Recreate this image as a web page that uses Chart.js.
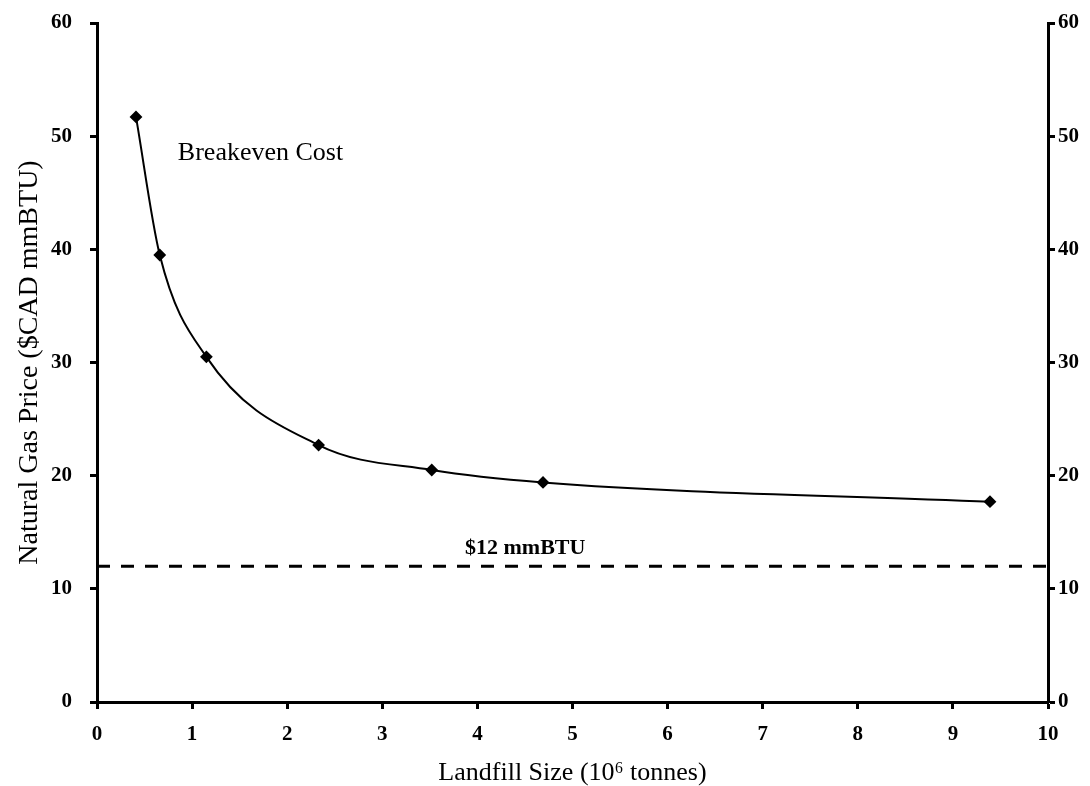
<!DOCTYPE html>
<html>
<head>
<meta charset="utf-8">
<script src="https://cdn.jsdelivr.net/npm/chart.js@4/dist/chart.umd.min.js"></script>
<style>
  html, body { margin: 0; padding: 0; background: #fff; }
  #wrap { width: 1090px; height: 786px; }
</style>
</head>
<body>
<div id="wrap"><canvas id="myChart" width="1090" height="786"></canvas></div>
<script>
// landfill size (10^6 tonnes) vs breakeven natural gas price ($CAD/mmBTU)
const landfillSize = [0.41, 0.66, 1.15, 2.33, 3.52, 4.69, 9.39];
const breakevenCost = [51.7, 39.5, 30.5, 22.7, 20.5, 19.4, 17.7];
const gasPriceX = [0, 10];
const gasPriceY = [12, 12];
const yTicks = [0, 10, 20, 30, 40, 50, 60];

const SERIF = "'Liberation Serif', 'Times New Roman', serif";
const ctx = document.getElementById("myChart");

const toPoints = (xs, ys) => xs.map((x, i) => ({ x: x, y: ys[i] }));

// text notes placed in data coordinates
const notes = [
  { text: "Breakeven Cost", x: 0.85, y: 48.5, bold: false, size: 26 },
  { text: "$12 mmBTU", x: 3.87, y: 13.6, bold: true, size: 22 },
];

const notePlugin = {
  id: "notes",
  afterDatasetsDraw(chart) {
    const c = chart.ctx;
    const xs = chart.scales.x;
    const ys = chart.scales.y;
    c.save();
    c.fillStyle = "#000";
    c.textBaseline = "middle";
    c.textAlign = "left";
    notes.forEach((n) => {
      c.font = (n.bold ? "bold " : "") + n.size + "px " + SERIF;
      c.fillText(n.text, xs.getPixelForValue(n.x), ys.getPixelForValue(n.y));
    });
    c.restore();
  },
};

const axisGrid = {
  drawOnChartArea: false,
  drawTicks: true,
  tickLength: 7,
  tickWidth: 3,
  tickColor: "#000",
};

const tickFont = { family: SERIF, size: 21, weight: "bold" };

// fixed width for the vertical axes; the top gap comes from layout padding
const fitVertical = (width) => (scale) => {
  scale.width = width;
  scale.paddingTop = 0;
};

const myChart = new Chart(ctx, {
  type: "scatter",
  data: {
    datasets: [
      {
        label: "Breakeven Cost",
        data: toPoints(landfillSize, breakevenCost),
        showLine: true,
        borderColor: "#000",
        backgroundColor: "#000",
        borderWidth: 2,
        cubicInterpolationMode: "monotone",
        pointStyle: "rectRot",
        pointRadius: 5,
        pointHoverRadius: 5,
      },
      {
        label: "$12 mmBTU",
        data: toPoints(gasPriceX, gasPriceY),
        showLine: true,
        borderColor: "#000",
        borderWidth: 3,
        borderDash: [13, 11],
        pointRadius: 0,
      },
    ],
  },
  options: {
    responsive: false,
    animation: false,
    layout: { padding: { top: 23, left: 0, right: 0, bottom: 0 } },
    plugins: {
      legend: { display: false },
      tooltip: { enabled: false },
    },
    scales: {
      x: {
        type: "linear",
        min: 0,
        max: 10,
        ticks: {
          stepSize: 1,
          color: "#000",
          padding: 13,
          font: tickFont,
        },
        grid: axisGrid,
        border: { display: true, color: "#000", width: 3 },
        title: {
          display: true,
          text: "Landfill Size (10\u2076 tonnes)",
          color: "#000",
          font: { family: SERIF, size: 26, lineHeight: 1 },
          padding: { top: 0, bottom: 0 },
        },
        afterFit(scale) { scale.height = 84; },
      },
      y: {
        type: "linear",
        position: "left",
        min: 0,
        max: 60,
        afterBuildTicks(scale) { scale.ticks = yTicks.map((v) => ({ value: v })); },
        ticks: {
          color: "#000",
          padding: 18,
          font: tickFont,
        },
        grid: axisGrid,
        border: { display: true, color: "#000", width: 3 },
        title: {
          display: true,
          text: "Natural Gas Price ($CAD mmBTU)",
          color: "#000",
          font: { family: SERIF, size: 28, lineHeight: 1 },
          padding: { top: 16, bottom: 0 },
        },
        afterFit: fitVertical(97),
      },
      y2: {
        type: "linear",
        position: "right",
        display: true,
        min: 0,
        max: 60,
        afterBuildTicks(scale) { scale.ticks = yTicks.map((v) => ({ value: v })); },
        ticks: {
          color: "#000",
          padding: 3,
          font: tickFont,
        },
        grid: axisGrid,
        border: { display: true, color: "#000", width: 3 },
        afterFit: fitVertical(42),
      },
    },
  },
  plugins: [notePlugin],
});
</script>
</body>
</html>
